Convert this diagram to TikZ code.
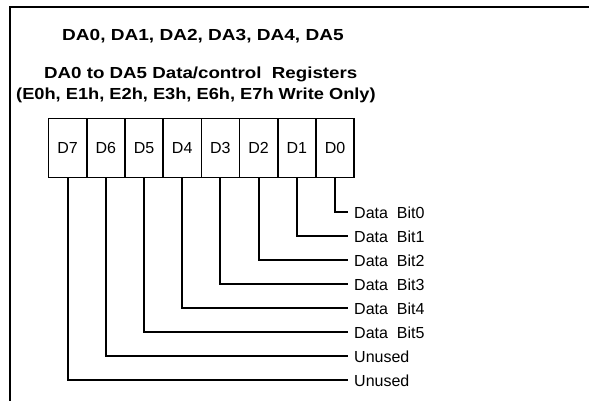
\documentclass[tikz,border=0pt]{standalone}
\usepackage{fontspec}
\setmainfont{Liberation Sans}
\begin{document}
\begin{tikzpicture}[x=1pt,y=-1pt,
  frame/.style={line width=2.4pt},
  cell/.style={draw,line width=1.6pt,minimum width=38.2pt,minimum height=59pt,inner sep=0pt,anchor=north west,font=\fontsize{16}{18}\selectfont},
  wire/.style={line width=2pt},
  lbl/.style={anchor=west,inner xsep=6pt,inner ysep=0pt,font=\fontsize{16}{18}\selectfont},
  ttl/.style={font=\bfseries\fontsize{16}{18}\selectfont,inner sep=0pt,anchor=base west}]
\useasboundingbox (0,0) rectangle (589,401);
\draw[frame] (9.7,401) -- (9.7,7.3) -- (589,7.3);
\node[ttl] (t1) at (62,40.5) {\scalebox{1.19}[1]{DA0, DA1, DA2, DA3, DA4, DA5}};
\node[ttl] (t2) at (44,79) {\scalebox{1.17}[1]{DA0 to DA5 Data/control\ \ Registers}};
\node[ttl] (t3) at (16,99.5) {\scalebox{1.14}[1]{(E0h, E1h, E2h, E3h, E6h, E7h Write Only)}};
\foreach \n [count=\i from 0] in {7,6,5,4,3,2,1,0}{
  \node[cell] (d\n) at ({47.7+38.2*\i},117.8) {D\n};
}
\foreach \n/\t [count=\i from 0] in {0/Data\ \ Bit0,1/Data\ \ Bit1,2/Data\ \ Bit2,3/Data\ \ Bit3,4/Data\ \ Bit4,5/Data\ \ Bit5,6/Unused,7/Unused}{
  \node[lbl] (l\n) at (348,{212.3+24*\i}) {\t};
  \draw[wire] (d\n.south) |- (l\n.west);
}
\end{tikzpicture}
\end{document}
